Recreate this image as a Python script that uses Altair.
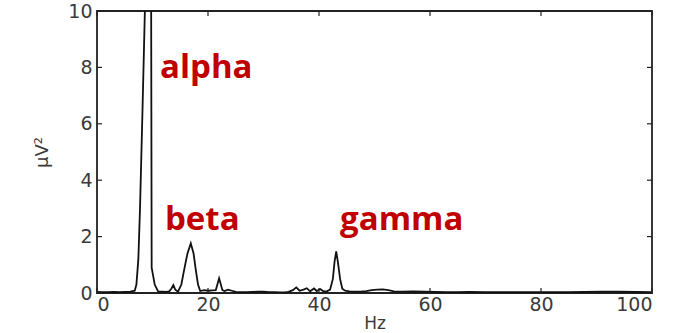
import altair as alt
import pandas as pd

# Power spectrum (uV^2) sampled along frequency (Hz)
freq_hz = [
    0, 1, 2, 3, 4, 5, 6,
    6.8, 7.1, 7.45, 7.75, 8.2, 8.7, 9.2, 9.75, 9.85, 10.4, 11.0,
    11.8, 12.5, 13.0, 13.4,
    13.75, 14.1, 14.6, 15.2, 15.7, 16.3, 16.9, 17.4, 17.8, 18.2, 18.6,
    19.3, 20.0, 20.8, 21.4, 22.0, 22.6, 23.0, 23.6, 24.3, 25.0,
    26, 27, 28, 29, 30, 31, 32, 33, 34,
    34.5, 35.3, 35.9, 36.5, 37.2, 37.8, 38.4, 39.1, 39.6, 40.2, 40.8, 41.5,
    42.0, 42.5, 42.8, 43.1, 43.4, 43.8, 44.2, 44.7, 45.5,
    46.5, 47.5, 48.5, 49.5, 50.5, 51.5, 52.5, 53.5, 55,
    57, 59, 61, 63, 65, 67, 70, 73, 76, 79, 82, 85, 88, 91, 94, 97, 100,
]
power_uv2 = [
    0.04, 0.03, 0.03, 0.04, 0.03, 0.04, 0.05,
    0.08, 0.3, 1.2, 3.0, 6.5, 10.6, 13.0, 11.0, 0.9, 0.3, 0.06,
    0.05, 0.04, 0.06, 0.15,
    0.28, 0.12, 0.05, 0.3, 0.82, 1.4, 1.76, 1.4, 0.82, 0.3, 0.07,
    0.1, 0.08, 0.09, 0.1, 0.52, 0.1, 0.07, 0.12, 0.08, 0.04,
    0.03, 0.03, 0.04, 0.05, 0.05, 0.03, 0.03, 0.02, 0.03,
    0.04, 0.1, 0.2, 0.08, 0.12, 0.17, 0.06, 0.16, 0.07, 0.14, 0.06, 0.07,
    0.12, 0.5, 1.1, 1.48, 1.1, 0.5, 0.15, 0.08, 0.06,
    0.05, 0.05, 0.07, 0.1, 0.12, 0.13, 0.1, 0.06, 0.05,
    0.06, 0.05, 0.04, 0.03, 0.03, 0.04, 0.03, 0.03, 0.03, 0.03, 0.03, 0.03, 0.04, 0.05, 0.05, 0.04, 0.03,
]

# Band annotations
band_names = ["alpha", "beta", "gamma"]
band_x = [11.35, 12.25, 43.8]
band_y = [7.62, 2.23, 2.23]

x_ticks = [0, 20, 40, 60, 80, 100]
y_ticks = [0, 2, 4, 6, 8, 10]

W, H = 555, 282
TICK = 5

spectrum = pd.DataFrame({"hz": freq_hz, "power": power_uv2})
bands = pd.DataFrame({"name": band_names, "hz": band_x, "power": band_y})
xt = pd.DataFrame({"hz": x_ticks})
yt = pd.DataFrame({"power": y_ticks})

x_scale = alt.Scale(domain=[0, 100], nice=False, zero=False)
y_scale = alt.Scale(domain=[0, 10], nice=False)

label_font = "DejaVu Sans"
label_color = "#3a3a3a"

line = alt.Chart(spectrum).mark_line(
    color="#111111", strokeWidth=1.8, clip=True
).encode(
    x=alt.X(
        "hz:Q",
        scale=x_scale,
        axis=alt.Axis(
            values=x_ticks, ticks=False, domain=False, grid=False,
            labelFont=label_font, labelFontSize=19, labelColor=label_color,
            labelPadding=2, title="Hz", titleFont=label_font,
            titleFontSize=17, titleFontWeight="normal", titleColor=label_color,
            titleY=30, titleBaseline="middle",
        ),
    ),
    y=alt.Y(
        "power:Q",
        scale=y_scale,
        axis=alt.Axis(
            values=y_ticks, ticks=False, domain=False, grid=False,
            labelFont=label_font, labelFontSize=19, labelColor=label_color,
            labelPadding=5, title="μV²", titleFont=label_font,
            titleFontSize=18, titleFontWeight="normal", titleColor=label_color,
            titleAngle=-90, titleX=-55, titleY=H / 2,
            titleAlign="center", titleBaseline="middle",
        ),
    ),
)

# Inward tick marks on all four sides
tick_style = dict(color="#222222", strokeWidth=1.2)
x_bottom = alt.Chart(xt).mark_rule(**tick_style).encode(
    x=alt.X("hz:Q", scale=x_scale), y=alt.value(H), y2=alt.value(H - TICK)
)
x_top = alt.Chart(xt).mark_rule(**tick_style).encode(
    x=alt.X("hz:Q", scale=x_scale), y=alt.value(0), y2=alt.value(TICK)
)
y_left = alt.Chart(yt).mark_rule(**tick_style).encode(
    y=alt.Y("power:Q", scale=y_scale), x=alt.value(0), x2=alt.value(TICK)
)
y_right = alt.Chart(yt).mark_rule(**tick_style).encode(
    y=alt.Y("power:Q", scale=y_scale), x=alt.value(W), x2=alt.value(W - TICK)
)

labels = alt.Chart(bands).mark_text(
    align="left", baseline="alphabetic", font="Open Sans",
    fontWeight="bold", fontSize=33, color="#c00000",
).encode(
    x=alt.X("hz:Q", scale=x_scale),
    y=alt.Y("power:Q", scale=y_scale),
    text="name:N",
)

chart = (
    alt.layer(line, x_bottom, x_top, y_left, y_right, labels)
    .properties(
        width=W,
        height=H,
        autosize=alt.AutoSizeParams(type="none"),
        padding={"left": 97, "top": 11, "right": 23, "bottom": 40},
        background="white",
    )
    .configure_view(stroke="#222222", strokeWidth=1.8)
)

chart.save("out.html", embed_options={"renderer": "svg", "actions": False})
